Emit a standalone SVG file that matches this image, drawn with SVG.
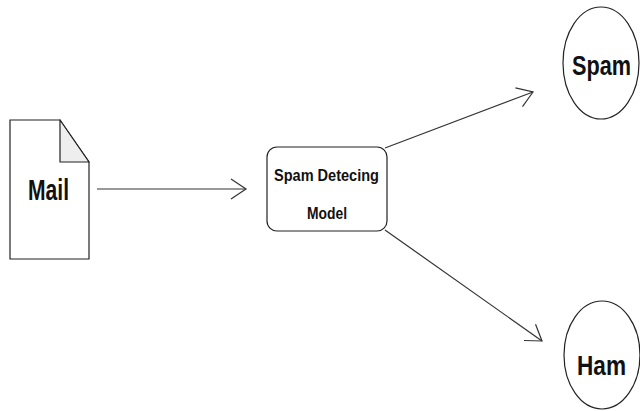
<svg xmlns="http://www.w3.org/2000/svg" width="640" height="411" viewBox="0 0 640 411">
<style>
.shape{fill:#fff;stroke:#222;stroke-width:1.2}
.fold{fill:#eeeeee;stroke:#222;stroke-width:1.2;stroke-linejoin:round}
.lbl{font-family:"Liberation Sans",Arial,sans-serif;font-weight:bold;fill:#111;text-anchor:middle}
.big{font-size:22px}
.edge{fill:none;stroke:#333;stroke-width:1.2}
</style>
<defs>
<marker id="open" markerUnits="userSpaceOnUse" markerWidth="40" markerHeight="40" viewBox="-20 -20 40 40" refX="0" refY="0" orient="auto" overflow="visible">
<path d="M-15,-10 L0,0 L-15,10" fill="none" stroke="#333" stroke-width="1.2"/>
</marker>
</defs>
<rect width="640" height="411" fill="#fff"/>
<g id="mail">
<path class="shape" d="M10,120 L60,120 L89,162 L89,259 L10,259 Z"/>
<path class="fold" d="M60,120 L60,162 L89,162 Z"/>
<text class="lbl big" transform="translate(48.5,200) scale(1,1.32)" textLength="41" lengthAdjust="spacingAndGlyphs">Mail</text>
</g>
<g id="model">
<rect class="shape" x="267" y="147" width="120" height="84" rx="10" ry="10"/>
<text class="lbl" x="326.5" y="181" font-size="16" textLength="105" lengthAdjust="spacingAndGlyphs">Spam Detecing</text>
<text class="lbl" x="327" y="219" font-size="16" textLength="40" lengthAdjust="spacingAndGlyphs">Model</text>
</g>
<g id="spam">
<ellipse class="shape" cx="601" cy="63" rx="38" ry="56"/>
<text class="lbl big" transform="translate(601.5,75) scale(1,1.28)" textLength="59" lengthAdjust="spacingAndGlyphs">Spam</text>
</g>
<g id="ham">
<ellipse class="shape" cx="602" cy="355" rx="38" ry="54"/>
<text class="lbl big" transform="translate(601.5,375) scale(1,1.28)" textLength="49" lengthAdjust="spacingAndGlyphs">Ham</text>
</g>
<g id="connectors">
<line class="edge" x1="97" y1="189" x2="246" y2="189" marker-end="url(#open)"/>
<line class="edge" x1="385" y1="148" x2="533" y2="92" marker-end="url(#open)"/>
<line class="edge" x1="385" y1="230" x2="542" y2="341" marker-end="url(#open)"/>
</g>
</svg>
